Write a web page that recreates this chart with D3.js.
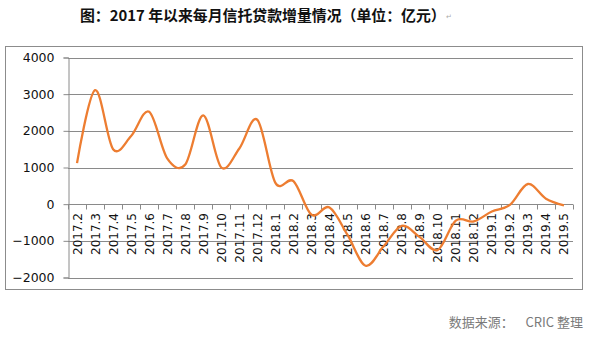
<!DOCTYPE html>
<html><head><meta charset="utf-8">
<script src="https://cdn.jsdelivr.net/npm/d3@7"></script>
<style>
html,body{margin:0;padding:0;background:#fff;}
svg{display:block;}
</style></head>
<body>
<script>
const categories = ["2017.2","2017.3","2017.4","2017.5","2017.6","2017.7","2017.8","2017.9","2017.10","2017.11","2017.12",
"2018.1","2018.2","2018.3","2018.4","2018.5","2018.6","2018.7","2018.8","2018.9","2018.10","2018.11","2018.12",
"2019.1","2019.2","2019.3","2019.4","2019.5"];
const values = [1120,3110,1500,1860,2520,1250,1080,2420,1000,1520,2300,
580,630,-290,-90,-840,-1680,-1150,-590,-900,-1250,-450,-470,
-200,-20,550,150,-30];
const yTicks = [-2000,-1000,0,1000,2000,3000,4000];
const title = "图：2017 年以来每月信托贷款增量情况（单位：亿元）";
const source = "数据来源：\u00a0\u00a0\u00a0 CRIC 整理";

const W = 595, H = 337;
const svg = d3.select("body").append("svg").attr("width", W).attr("height", H);

// title (fitted to the reference span)
const tx0 = 80, tWidth = 366;
const t = svg.append("text").attr("x", tx0).attr("y", 20.5)
  .attr("font-family","'Noto Sans CJK SC'").attr("font-weight","bold").attr("font-size",16)
  .attr("fill","#111").text(title);
const L = t.node().getComputedTextLength();
t.attr("font-size", 16 * tWidth / L);
svg.append("text").attr("x", 446).attr("y", 19)
  .attr("font-family","DejaVu Sans").attr("font-size",7).attr("fill","#aaa").text("↵");

// frame
svg.append("rect").attr("x",5.5).attr("y",46.5).attr("width",577).attr("height",243)
  .attr("fill","#fff").attr("stroke","#8c8c8c").attr("stroke-width",1);

const left = 68, right = 573;
const x = d3.scaleBand().domain(categories).range([left, right]).padding(0);
const y = d3.scaleLinear().domain([-2000, 4000]).range([277.5, 57.5]);

// gridlines
svg.append("g").selectAll("line").data(yTicks).join("line")
  .attr("x1", left).attr("x2", right)
  .attr("y1", d => Math.round(y(d))+0.5).attr("y2", d => Math.round(y(d))+0.5)
  .attr("stroke","#8a8a8a").attr("stroke-width",1);

// y axis
const yAxis = d3.axisLeft(y).tickValues(yTicks).tickSize(5).tickPadding(9).tickFormat(d3.format("d"));
const gy = svg.append("g").attr("transform",`translate(${left+0.5},0)`).call(yAxis);
gy.select(".domain").attr("stroke","#8a8a8a");
gy.selectAll(".tick line").attr("stroke","#8a8a8a");
gy.selectAll(".tick text").attr("font-family","DejaVu Sans").attr("font-size",12.5).attr("fill","#111");

// x axis at 0
const boundaries = categories.map(c => x(c)).concat([right]);
const gx = svg.append("g");
gx.selectAll("line.t").data(boundaries).join("line").attr("class","t")
  .attr("x1", d => Math.round(d)+0.5).attr("x2", d => Math.round(d)+0.5)
  .attr("y1", Math.round(y(0))+0.5).attr("y2", Math.round(y(0))+5.5)
  .attr("stroke","#8a8a8a");
gx.selectAll("text").data(categories).join("text")
  .attr("transform", d => `translate(${x(d)+x.bandwidth()/2+4.5},${213}) rotate(-90)`)
  .attr("text-anchor","end")
  .attr("font-family","DejaVu Sans").attr("font-size",12).attr("fill","#111")
  .text(d => d);

// line
const line = d3.line()
  .x((d,i) => x(categories[i]) + x.bandwidth()/2)
  .y(d => y(d))
  .curve(d3.curveCardinal.tension(0));
svg.append("path").datum(values).attr("d", line)
  .attr("fill","none").attr("stroke","#ED7D31").attr("stroke-width",2.3);

// source
svg.append("text").attr("x", 583).attr("y", 327).attr("text-anchor","end")
  .attr("font-family","'Noto Sans CJK SC'").attr("font-size",13).attr("fill","#7a7a7a")
  .text(source);
</script>
</body></html>
